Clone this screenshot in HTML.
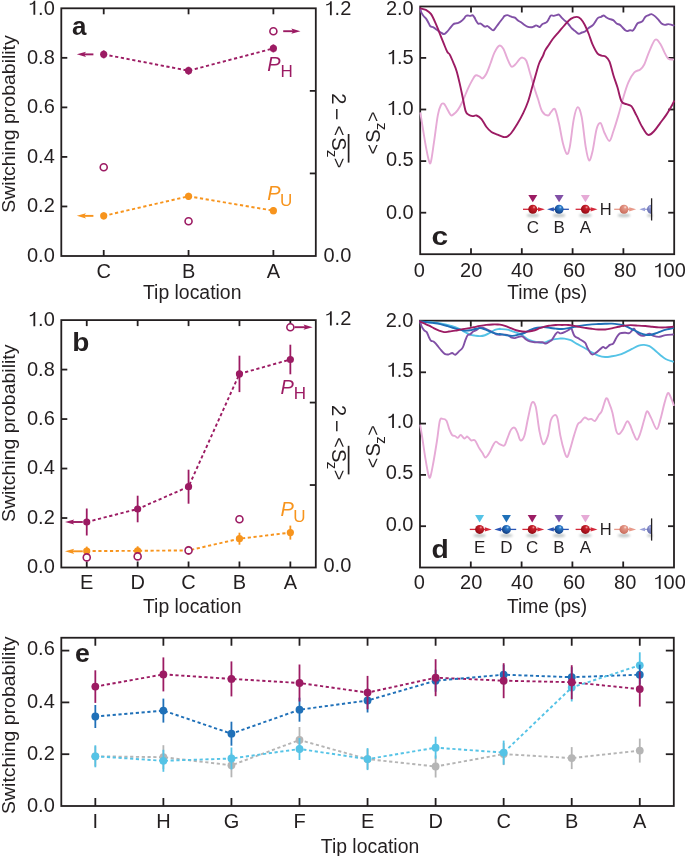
<!DOCTYPE html>
<html><head><meta charset="utf-8"><title>Figure</title>
<style>html,body{margin:0;padding:0;background:#fff;width:685px;height:856px;overflow:hidden}
svg text{font-family:"Liberation Sans", sans-serif} svg{will-change:transform}</style></head>
<body><svg width="685" height="856" viewBox="0 0 685 856" style="display:block"><defs><filter id="blur1" x="-50%" y="-100%" width="200%" height="300%"><feGaussianBlur stdDeviation="0.8"/></filter><radialGradient id="gR" cx="0.6" cy="0.32" r="0.78" fx="0.64" fy="0.27"><stop offset="0" stop-color="#f2a0a0"/><stop offset="0.22" stop-color="#c8202c"/><stop offset="0.75" stop-color="#a00e18"/><stop offset="1" stop-color="#780810"/></radialGradient><radialGradient id="gB" cx="0.6" cy="0.32" r="0.78" fx="0.64" fy="0.27"><stop offset="0" stop-color="#a0d0f4"/><stop offset="0.22" stop-color="#2a78c8"/><stop offset="0.75" stop-color="#164890"/><stop offset="1" stop-color="#0d306a"/></radialGradient><radialGradient id="gRf" cx="0.6" cy="0.32" r="0.78" fx="0.64" fy="0.27"><stop offset="0" stop-color="#fbe0d8"/><stop offset="0.22" stop-color="#e49686"/><stop offset="0.75" stop-color="#cf7565"/><stop offset="1" stop-color="#b9604f"/></radialGradient><radialGradient id="gBf" cx="0.6" cy="0.32" r="0.78" fx="0.64" fy="0.27"><stop offset="0" stop-color="#c8ccee"/><stop offset="0.22" stop-color="#8890cc"/><stop offset="0.75" stop-color="#6a72b2"/><stop offset="1" stop-color="#545c9a"/></radialGradient></defs><rect x="61.3" y="8.3" width="254.5" height="247.7" fill="none" stroke="#231f20" stroke-width="1.8" stroke-linejoin="miter"/>
<line x1="103.72" y1="256" x2="103.72" y2="250" stroke="#231f20" stroke-width="1.8" />
<line x1="103.72" y1="8.3" x2="103.72" y2="14.3" stroke="#231f20" stroke-width="1.8" />
<line x1="188.55" y1="256" x2="188.55" y2="250" stroke="#231f20" stroke-width="1.8" />
<line x1="188.55" y1="8.3" x2="188.55" y2="14.3" stroke="#231f20" stroke-width="1.8" />
<line x1="273.38" y1="256" x2="273.38" y2="250" stroke="#231f20" stroke-width="1.8" />
<line x1="273.38" y1="8.3" x2="273.38" y2="14.3" stroke="#231f20" stroke-width="1.8" />
<line x1="61.3" y1="206.46" x2="67.3" y2="206.46" stroke="#231f20" stroke-width="1.8" />
<line x1="61.3" y1="156.92" x2="67.3" y2="156.92" stroke="#231f20" stroke-width="1.8" />
<line x1="61.3" y1="107.38" x2="67.3" y2="107.38" stroke="#231f20" stroke-width="1.8" />
<line x1="61.3" y1="57.84" x2="67.3" y2="57.84" stroke="#231f20" stroke-width="1.8" />
<text x="54.8" y="261.7" font-size="20" text-anchor="end" fill="#231f20" >0.0</text>
<text x="54.8" y="212" font-size="20" text-anchor="end" fill="#231f20" >0.2</text>
<text x="54.8" y="163" font-size="20" text-anchor="end" fill="#231f20" >0.4</text>
<text x="54.8" y="113.3" font-size="20" text-anchor="end" fill="#231f20" >0.6</text>
<text x="54.8" y="64.3" font-size="20" text-anchor="end" fill="#231f20" >0.8</text>
<text x="54.8" y="14.8" font-size="20" text-anchor="end" fill="#231f20" > .0</text>
<path transform="translate(27,14.8) scale(20)" d="M0.322,0 L0.412,0 L0.412,-0.708 L0.342,-0.708 C0.322,-0.625 0.255,-0.57 0.14,-0.56 L0.14,-0.492 C0.225,-0.495 0.29,-0.525 0.322,-0.565 Z" fill="#231f20"/>
<line x1="315.8" y1="173.43" x2="309.8" y2="173.43" stroke="#231f20" stroke-width="1.8" />
<line x1="315.8" y1="90.87" x2="309.8" y2="90.87" stroke="#231f20" stroke-width="1.8" />
<text x="323.5" y="15.3" font-size="20" text-anchor="start" fill="#231f20" > .2</text>
<path transform="translate(323.5,15.3) scale(20)" d="M0.322,0 L0.412,0 L0.412,-0.708 L0.342,-0.708 C0.322,-0.625 0.255,-0.57 0.14,-0.56 L0.14,-0.492 C0.225,-0.495 0.29,-0.525 0.322,-0.565 Z" fill="#231f20"/>
<text x="323.5" y="262" font-size="20" text-anchor="start" fill="#231f20" >0.0</text>
<text x="103.72" y="277.5" font-size="20" text-anchor="middle" fill="#231f20" >C</text>
<text x="188.55" y="277.5" font-size="20" text-anchor="middle" fill="#231f20" >B</text>
<text x="273.38" y="277.5" font-size="20" text-anchor="middle" fill="#231f20" >A</text>
<text x="192.2" y="299.1" font-size="20" text-anchor="middle" fill="#231f20" textLength="98.5" lengthAdjust="spacingAndGlyphs" >Tip location</text>
<text transform="translate(14.6,124) rotate(-90)" font-size="19.2" text-anchor="middle" fill="#231f20" textLength="177.5" lengthAdjust="spacingAndGlyphs">Switching probability</text>
<g transform="translate(332.2,131.3) rotate(90)" fill="#231f20" font-size="20"><text x="-38.1" y="0">2</text><text x="-23.2" y="1.7" font-size="21">−</text><text x="-5.6" y="-0.7" font-size="17.5">&lt;</text><text x="5.9" y="0">S</text><text x="18.6" y="4.8" font-size="15">z</text><text x="26.8" y="-0.7" font-size="17.5">&gt;</text><line x1="2.7" y1="-16.4" x2="31.3" y2="-16.4" stroke="#231f20" stroke-width="1.7"/></g>
<text transform="translate(72,35.2) scale(1.04,1)" font-size="25" font-weight="bold" fill="#231f20">a</text>
<path d="M103.72,215.87 L188.55,196.3 L273.38,210.67" fill="none" stroke="#f7941d" stroke-width="1.9" stroke-dasharray="3.2,2.6" stroke-linejoin="round"/>
<line x1="103.72" y1="212.37" x2="103.72" y2="219.37" stroke="#f7941d" stroke-width="1.8" />
<circle cx="103.72" cy="215.87" r="3.6" fill="#f7941d" stroke="none" stroke-width="0"/>
<line x1="188.55" y1="192.8" x2="188.55" y2="199.8" stroke="#f7941d" stroke-width="1.8" />
<circle cx="188.55" cy="196.3" r="3.6" fill="#f7941d" stroke="none" stroke-width="0"/>
<line x1="273.38" y1="207.17" x2="273.38" y2="214.17" stroke="#f7941d" stroke-width="1.8" />
<circle cx="273.38" cy="210.67" r="3.6" fill="#f7941d" stroke="none" stroke-width="0"/>
<line x1="93.4" y1="215.87" x2="82.32" y2="215.87" stroke="#f7941d" stroke-width="1.9" />
<path d="M76.8,215.87 L86,213.27 L84.16,215.87 L86,218.47 Z" fill="#f7941d"/>
<path d="M103.72,54.37 L188.55,70.72 L273.38,48.43" fill="none" stroke="#9c1b63" stroke-width="1.9" stroke-dasharray="3.2,2.6" stroke-linejoin="round"/>
<line x1="103.72" y1="50.37" x2="103.72" y2="58.37" stroke="#9c1b63" stroke-width="1.8" />
<circle cx="103.72" cy="54.37" r="3.6" fill="#9c1b63" stroke="none" stroke-width="0"/>
<line x1="188.55" y1="66.72" x2="188.55" y2="74.72" stroke="#9c1b63" stroke-width="1.8" />
<circle cx="188.55" cy="70.72" r="3.6" fill="#9c1b63" stroke="none" stroke-width="0"/>
<line x1="273.38" y1="44.43" x2="273.38" y2="52.43" stroke="#9c1b63" stroke-width="1.8" />
<circle cx="273.38" cy="48.43" r="3.6" fill="#9c1b63" stroke="none" stroke-width="0"/>
<line x1="93.4" y1="54.37" x2="82.32" y2="54.37" stroke="#9c1b63" stroke-width="1.9" />
<path d="M76.8,54.37 L86,51.77 L84.16,54.37 L86,56.97 Z" fill="#9c1b63"/>
<circle cx="103.72" cy="167.3" r="3.5" fill="#fff" stroke="#9c1b63" stroke-width="1.6"/>
<circle cx="188.55" cy="221.2" r="3.5" fill="#fff" stroke="#9c1b63" stroke-width="1.6"/>
<circle cx="273.38" cy="31.2" r="3.5" fill="#fff" stroke="#9c1b63" stroke-width="1.6"/>
<line x1="283.2" y1="31.2" x2="294.98" y2="31.2" stroke="#9c1b63" stroke-width="1.9" />
<path d="M300.5,31.2 L291.3,28.6 L293.14,31.2 L291.3,33.8 Z" fill="#9c1b63"/>
<text x="267.2" y="71.2" font-size="20" text-anchor="start" fill="#9c1b63" ><tspan font-style="italic">P</tspan><tspan font-size="17" dy="5.4">H</tspan></text>
<text x="267.2" y="199.5" font-size="20" text-anchor="start" fill="#f7941d" ><tspan font-style="italic">P</tspan><tspan font-size="17" dy="6.4" dx="-0.6">U</tspan></text>
<rect x="61.3" y="320.1" width="254.5" height="247.4" fill="none" stroke="#231f20" stroke-width="1.8" stroke-linejoin="miter"/>
<line x1="86.75" y1="567.5" x2="86.75" y2="561.5" stroke="#231f20" stroke-width="1.8" />
<line x1="86.75" y1="320.1" x2="86.75" y2="326.1" stroke="#231f20" stroke-width="1.8" />
<line x1="137.65" y1="567.5" x2="137.65" y2="561.5" stroke="#231f20" stroke-width="1.8" />
<line x1="137.65" y1="320.1" x2="137.65" y2="326.1" stroke="#231f20" stroke-width="1.8" />
<line x1="188.55" y1="567.5" x2="188.55" y2="561.5" stroke="#231f20" stroke-width="1.8" />
<line x1="188.55" y1="320.1" x2="188.55" y2="326.1" stroke="#231f20" stroke-width="1.8" />
<line x1="239.45" y1="567.5" x2="239.45" y2="561.5" stroke="#231f20" stroke-width="1.8" />
<line x1="239.45" y1="320.1" x2="239.45" y2="326.1" stroke="#231f20" stroke-width="1.8" />
<line x1="290.35" y1="567.5" x2="290.35" y2="561.5" stroke="#231f20" stroke-width="1.8" />
<line x1="290.35" y1="320.1" x2="290.35" y2="326.1" stroke="#231f20" stroke-width="1.8" />
<line x1="61.3" y1="518.02" x2="67.3" y2="518.02" stroke="#231f20" stroke-width="1.8" />
<line x1="61.3" y1="468.54" x2="67.3" y2="468.54" stroke="#231f20" stroke-width="1.8" />
<line x1="61.3" y1="419.06" x2="67.3" y2="419.06" stroke="#231f20" stroke-width="1.8" />
<line x1="61.3" y1="369.58" x2="67.3" y2="369.58" stroke="#231f20" stroke-width="1.8" />
<text x="54.8" y="573" font-size="20" text-anchor="end" fill="#231f20" >0.0</text>
<text x="54.8" y="524" font-size="20" text-anchor="end" fill="#231f20" >0.2</text>
<text x="54.8" y="474.4" font-size="20" text-anchor="end" fill="#231f20" >0.4</text>
<text x="54.8" y="425.3" font-size="20" text-anchor="end" fill="#231f20" >0.6</text>
<text x="54.8" y="376" font-size="20" text-anchor="end" fill="#231f20" >0.8</text>
<text x="54.8" y="326.2" font-size="20" text-anchor="end" fill="#231f20" > .0</text>
<path transform="translate(27,326.2) scale(20)" d="M0.322,0 L0.412,0 L0.412,-0.708 L0.342,-0.708 C0.322,-0.625 0.255,-0.57 0.14,-0.56 L0.14,-0.492 C0.225,-0.495 0.29,-0.525 0.322,-0.565 Z" fill="#231f20"/>
<line x1="315.8" y1="485.03" x2="309.8" y2="485.03" stroke="#231f20" stroke-width="1.8" />
<line x1="315.8" y1="402.57" x2="309.8" y2="402.57" stroke="#231f20" stroke-width="1.8" />
<text x="323.5" y="325.4" font-size="20" text-anchor="start" fill="#231f20" > .2</text>
<path transform="translate(323.5,325.4) scale(20)" d="M0.322,0 L0.412,0 L0.412,-0.708 L0.342,-0.708 C0.322,-0.625 0.255,-0.57 0.14,-0.56 L0.14,-0.492 C0.225,-0.495 0.29,-0.525 0.322,-0.565 Z" fill="#231f20"/>
<text x="323.5" y="572" font-size="20" text-anchor="start" fill="#231f20" >0.0</text>
<text x="86.75" y="589" font-size="20" text-anchor="middle" fill="#231f20" >E</text>
<text x="137.65" y="589" font-size="20" text-anchor="middle" fill="#231f20" >D</text>
<text x="188.55" y="589" font-size="20" text-anchor="middle" fill="#231f20" >C</text>
<text x="239.45" y="589" font-size="20" text-anchor="middle" fill="#231f20" >B</text>
<text x="290.35" y="589" font-size="20" text-anchor="middle" fill="#231f20" >A</text>
<text x="192.2" y="613.3" font-size="20" text-anchor="middle" fill="#231f20" textLength="98.5" lengthAdjust="spacingAndGlyphs" >Tip location</text>
<text transform="translate(14.6,433.3) rotate(-90)" font-size="19.2" text-anchor="middle" fill="#231f20" textLength="177.5" lengthAdjust="spacingAndGlyphs">Switching probability</text>
<g transform="translate(332.2,443.1) rotate(90)" fill="#231f20" font-size="20"><text x="-38.1" y="0">2</text><text x="-23.2" y="1.7" font-size="21">−</text><text x="-5.6" y="-0.7" font-size="17.5">&lt;</text><text x="5.9" y="0">S</text><text x="18.6" y="4.8" font-size="15">z</text><text x="26.8" y="-0.7" font-size="17.5">&gt;</text><line x1="2.7" y1="-16.4" x2="31.3" y2="-16.4" stroke="#231f20" stroke-width="1.7"/></g>
<text transform="translate(72.2,351) scale(1.12,1)" font-size="25" font-weight="bold" fill="#231f20">b</text>
<path d="M86.75,551.1 L137.65,550.8 L188.55,550.4 L239.45,538.7 L290.35,532.6" fill="none" stroke="#f7941d" stroke-width="1.9" stroke-dasharray="3.2,2.6" stroke-linejoin="round"/>
<line x1="86.75" y1="546.6" x2="86.75" y2="555.6" stroke="#f7941d" stroke-width="1.8" />
<circle cx="86.75" cy="551.1" r="3.6" fill="#f7941d" stroke="none" stroke-width="0"/>
<line x1="137.65" y1="546.3" x2="137.65" y2="555.3" stroke="#f7941d" stroke-width="1.8" />
<circle cx="137.65" cy="550.8" r="3.6" fill="#f7941d" stroke="none" stroke-width="0"/>
<line x1="188.55" y1="545.9" x2="188.55" y2="554.9" stroke="#f7941d" stroke-width="1.8" />
<circle cx="188.55" cy="550.4" r="3.6" fill="#f7941d" stroke="none" stroke-width="0"/>
<line x1="239.45" y1="532.7" x2="239.45" y2="544.7" stroke="#f7941d" stroke-width="1.8" />
<circle cx="239.45" cy="538.7" r="3.6" fill="#f7941d" stroke="none" stroke-width="0"/>
<line x1="290.35" y1="525.6" x2="290.35" y2="539.6" stroke="#f7941d" stroke-width="1.8" />
<circle cx="290.35" cy="532.6" r="3.6" fill="#f7941d" stroke="none" stroke-width="0"/>
<line x1="82.8" y1="551.3" x2="70.52" y2="551.3" stroke="#f7941d" stroke-width="1.9" />
<path d="M65,551.3 L74.2,548.7 L72.36,551.3 L74.2,553.9 Z" fill="#f7941d"/>
<path d="M86.75,522 L137.65,509 L188.55,486.7 L239.45,373.9 L290.35,359.5" fill="none" stroke="#9c1b63" stroke-width="1.9" stroke-dasharray="3.2,2.6" stroke-linejoin="round"/>
<line x1="86.75" y1="508.5" x2="86.75" y2="535.5" stroke="#9c1b63" stroke-width="1.8" />
<circle cx="86.75" cy="522" r="3.6" fill="#9c1b63" stroke="none" stroke-width="0"/>
<line x1="137.65" y1="495.7" x2="137.65" y2="522.3" stroke="#9c1b63" stroke-width="1.8" />
<circle cx="137.65" cy="509" r="3.6" fill="#9c1b63" stroke="none" stroke-width="0"/>
<line x1="188.55" y1="469.7" x2="188.55" y2="503.7" stroke="#9c1b63" stroke-width="1.8" />
<circle cx="188.55" cy="486.7" r="3.6" fill="#9c1b63" stroke="none" stroke-width="0"/>
<line x1="239.45" y1="355.7" x2="239.45" y2="392.1" stroke="#9c1b63" stroke-width="1.8" />
<circle cx="239.45" cy="373.9" r="3.6" fill="#9c1b63" stroke="none" stroke-width="0"/>
<line x1="290.35" y1="344.7" x2="290.35" y2="374.3" stroke="#9c1b63" stroke-width="1.8" />
<circle cx="290.35" cy="359.5" r="3.6" fill="#9c1b63" stroke="none" stroke-width="0"/>
<line x1="82.8" y1="522" x2="70.52" y2="522" stroke="#9c1b63" stroke-width="1.9" />
<path d="M65,522 L74.2,519.4 L72.36,522 L74.2,524.6 Z" fill="#9c1b63"/>
<circle cx="86.75" cy="557.4" r="3.5" fill="#fff" stroke="#9c1b63" stroke-width="1.6"/>
<circle cx="137.65" cy="556.4" r="3.5" fill="#fff" stroke="#9c1b63" stroke-width="1.6"/>
<circle cx="188.55" cy="550.4" r="3.5" fill="#fff" stroke="#9c1b63" stroke-width="1.6"/>
<circle cx="239.45" cy="519.3" r="3.5" fill="#fff" stroke="#9c1b63" stroke-width="1.6"/>
<circle cx="290.35" cy="327.2" r="3.5" fill="#fff" stroke="#9c1b63" stroke-width="1.6"/>
<line x1="294.5" y1="327.2" x2="307.18" y2="327.2" stroke="#9c1b63" stroke-width="1.9" />
<path d="M312.7,327.2 L303.5,324.6 L305.34,327.2 L303.5,329.8 Z" fill="#9c1b63"/>
<text x="280.5" y="393.6" font-size="20" text-anchor="start" fill="#9c1b63" ><tspan font-style="italic">P</tspan><tspan font-size="17" dy="5.4">H</tspan></text>
<text x="280.5" y="516" font-size="20" text-anchor="start" fill="#f7941d" ><tspan font-style="italic">P</tspan><tspan font-size="17" dy="6.4" dx="-0.6">U</tspan></text>
<rect x="420.2" y="6.5" width="254" height="247.7" fill="none" stroke="#231f20" stroke-width="1.8" stroke-linejoin="miter"/>
<line x1="471" y1="254.2" x2="471" y2="248.2" stroke="#231f20" stroke-width="1.8" />
<line x1="471" y1="6.5" x2="471" y2="12.5" stroke="#231f20" stroke-width="1.8" />
<line x1="521.8" y1="254.2" x2="521.8" y2="248.2" stroke="#231f20" stroke-width="1.8" />
<line x1="521.8" y1="6.5" x2="521.8" y2="12.5" stroke="#231f20" stroke-width="1.8" />
<line x1="572.6" y1="254.2" x2="572.6" y2="248.2" stroke="#231f20" stroke-width="1.8" />
<line x1="572.6" y1="6.5" x2="572.6" y2="12.5" stroke="#231f20" stroke-width="1.8" />
<line x1="623.4" y1="254.2" x2="623.4" y2="248.2" stroke="#231f20" stroke-width="1.8" />
<line x1="623.4" y1="6.5" x2="623.4" y2="12.5" stroke="#231f20" stroke-width="1.8" />
<line x1="420.2" y1="212.7" x2="426.2" y2="212.7" stroke="#231f20" stroke-width="1.8" />
<line x1="674.2" y1="212.7" x2="668.2" y2="212.7" stroke="#231f20" stroke-width="1.8" />
<line x1="420.2" y1="161.1" x2="426.2" y2="161.1" stroke="#231f20" stroke-width="1.8" />
<line x1="674.2" y1="161.1" x2="668.2" y2="161.1" stroke="#231f20" stroke-width="1.8" />
<line x1="420.2" y1="109.5" x2="426.2" y2="109.5" stroke="#231f20" stroke-width="1.8" />
<line x1="674.2" y1="109.5" x2="668.2" y2="109.5" stroke="#231f20" stroke-width="1.8" />
<line x1="420.2" y1="57.9" x2="426.2" y2="57.9" stroke="#231f20" stroke-width="1.8" />
<line x1="674.2" y1="57.9" x2="668.2" y2="57.9" stroke="#231f20" stroke-width="1.8" />
<text x="413.7" y="218.75" font-size="20" text-anchor="end" fill="#231f20" >0.0</text>
<text x="413.7" y="166.2" font-size="20" text-anchor="end" fill="#231f20" >0.5</text>
<text x="413.7" y="115.1" font-size="20" text-anchor="end" fill="#231f20" > .0</text>
<path transform="translate(385.9,115.1) scale(20)" d="M0.322,0 L0.412,0 L0.412,-0.708 L0.342,-0.708 C0.322,-0.625 0.255,-0.57 0.14,-0.56 L0.14,-0.492 C0.225,-0.495 0.29,-0.525 0.322,-0.565 Z" fill="#231f20"/>
<text x="413.7" y="64.2" font-size="20" text-anchor="end" fill="#231f20" > .5</text>
<path transform="translate(385.9,64.2) scale(20)" d="M0.322,0 L0.412,0 L0.412,-0.708 L0.342,-0.708 C0.322,-0.625 0.255,-0.57 0.14,-0.56 L0.14,-0.492 C0.225,-0.495 0.29,-0.525 0.322,-0.565 Z" fill="#231f20"/>
<text x="413.7" y="14.8" font-size="20" text-anchor="end" fill="#231f20" >2.0</text>
<text x="419.2" y="277.3" font-size="20" text-anchor="middle" fill="#231f20" >0</text>
<text x="471.2" y="277.3" font-size="20" text-anchor="middle" fill="#231f20" >20</text>
<text x="522.2" y="277.3" font-size="20" text-anchor="middle" fill="#231f20" >40</text>
<text x="574" y="277.3" font-size="20" text-anchor="middle" fill="#231f20" >60</text>
<text x="625.2" y="277.3" font-size="20" text-anchor="middle" fill="#231f20" >80</text>
<text x="652.4" y="277.3" font-size="20" text-anchor="start" fill="#231f20" > 00</text>
<path transform="translate(652.4,277.3) scale(20)" d="M0.322,0 L0.412,0 L0.412,-0.708 L0.342,-0.708 C0.322,-0.625 0.255,-0.57 0.14,-0.56 L0.14,-0.492 C0.225,-0.495 0.29,-0.525 0.322,-0.565 Z" fill="#231f20"/>
<text x="547.2" y="299.3" font-size="20" text-anchor="middle" fill="#231f20" textLength="80" lengthAdjust="spacingAndGlyphs" >Time (ps)</text>
<g transform="translate(380.3,130.85) rotate(-90)" fill="#231f20" font-size="20"><text x="-23.35" y="-1.7" font-size="17.5">&lt;</text><text x="-11.85" y="0">S</text><text x="0.75" y="4.5" font-size="15">z</text><text x="9.15" y="-1.7" font-size="17.5">&gt;</text></g>
<text transform="translate(431.6,244.9) scale(1.2,1)" font-size="25" font-weight="bold" fill="#231f20">c</text>
<rect x="420" y="320.7" width="254" height="246.8" fill="none" stroke="#231f20" stroke-width="1.8" stroke-linejoin="miter"/>
<line x1="470.8" y1="567.5" x2="470.8" y2="561.5" stroke="#231f20" stroke-width="1.8" />
<line x1="470.8" y1="320.7" x2="470.8" y2="326.7" stroke="#231f20" stroke-width="1.8" />
<line x1="521.6" y1="567.5" x2="521.6" y2="561.5" stroke="#231f20" stroke-width="1.8" />
<line x1="521.6" y1="320.7" x2="521.6" y2="326.7" stroke="#231f20" stroke-width="1.8" />
<line x1="572.4" y1="567.5" x2="572.4" y2="561.5" stroke="#231f20" stroke-width="1.8" />
<line x1="572.4" y1="320.7" x2="572.4" y2="326.7" stroke="#231f20" stroke-width="1.8" />
<line x1="623.2" y1="567.5" x2="623.2" y2="561.5" stroke="#231f20" stroke-width="1.8" />
<line x1="623.2" y1="320.7" x2="623.2" y2="326.7" stroke="#231f20" stroke-width="1.8" />
<line x1="420" y1="526.2" x2="426" y2="526.2" stroke="#231f20" stroke-width="1.8" />
<line x1="674" y1="526.2" x2="668" y2="526.2" stroke="#231f20" stroke-width="1.8" />
<line x1="420" y1="474.9" x2="426" y2="474.9" stroke="#231f20" stroke-width="1.8" />
<line x1="674" y1="474.9" x2="668" y2="474.9" stroke="#231f20" stroke-width="1.8" />
<line x1="420" y1="423.6" x2="426" y2="423.6" stroke="#231f20" stroke-width="1.8" />
<line x1="674" y1="423.6" x2="668" y2="423.6" stroke="#231f20" stroke-width="1.8" />
<line x1="420" y1="372.3" x2="426" y2="372.3" stroke="#231f20" stroke-width="1.8" />
<line x1="674" y1="372.3" x2="668" y2="372.3" stroke="#231f20" stroke-width="1.8" />
<text x="413.5" y="531.4" font-size="20" text-anchor="end" fill="#231f20" >0.0</text>
<text x="413.5" y="479" font-size="20" text-anchor="end" fill="#231f20" >0.5</text>
<text x="413.5" y="428" font-size="20" text-anchor="end" fill="#231f20" > .0</text>
<path transform="translate(385.7,428) scale(20)" d="M0.322,0 L0.412,0 L0.412,-0.708 L0.342,-0.708 C0.322,-0.625 0.255,-0.57 0.14,-0.56 L0.14,-0.492 C0.225,-0.495 0.29,-0.525 0.322,-0.565 Z" fill="#231f20"/>
<text x="413.5" y="376.8" font-size="20" text-anchor="end" fill="#231f20" > .5</text>
<path transform="translate(385.7,376.8) scale(20)" d="M0.322,0 L0.412,0 L0.412,-0.708 L0.342,-0.708 C0.322,-0.625 0.255,-0.57 0.14,-0.56 L0.14,-0.492 C0.225,-0.495 0.29,-0.525 0.322,-0.565 Z" fill="#231f20"/>
<text x="413.5" y="327.1" font-size="20" text-anchor="end" fill="#231f20" >2.0</text>
<text x="419.2" y="589.1" font-size="20" text-anchor="middle" fill="#231f20" >0</text>
<text x="471.2" y="589.1" font-size="20" text-anchor="middle" fill="#231f20" >20</text>
<text x="522.2" y="589.1" font-size="20" text-anchor="middle" fill="#231f20" >40</text>
<text x="574" y="589.1" font-size="20" text-anchor="middle" fill="#231f20" >60</text>
<text x="625.2" y="589.1" font-size="20" text-anchor="middle" fill="#231f20" >80</text>
<text x="652.4" y="589.1" font-size="20" text-anchor="start" fill="#231f20" > 00</text>
<path transform="translate(652.4,589.1) scale(20)" d="M0.322,0 L0.412,0 L0.412,-0.708 L0.342,-0.708 C0.322,-0.625 0.255,-0.57 0.14,-0.56 L0.14,-0.492 C0.225,-0.495 0.29,-0.525 0.322,-0.565 Z" fill="#231f20"/>
<text x="547" y="612.6" font-size="20" text-anchor="middle" fill="#231f20" textLength="80" lengthAdjust="spacingAndGlyphs" >Time (ps)</text>
<g transform="translate(380.3,444.6) rotate(-90)" fill="#231f20" font-size="20"><text x="-23.35" y="-1.7" font-size="17.5">&lt;</text><text x="-11.85" y="0">S</text><text x="0.75" y="4.5" font-size="15">z</text><text x="9.15" y="-1.7" font-size="17.5">&gt;</text></g>
<text transform="translate(431.5,558.4) scale(1.13,1)" font-size="25" font-weight="bold" fill="#231f20">d</text>
<path d="M420.38,113.14 C420.81,115.79 422.04,123.4 422.96,129.02 C423.89,134.64 424.95,141.59 425.94,146.88 C426.93,152.18 428.09,158.3 428.92,160.78 C429.74,163.26 430.07,164.75 430.9,161.77 C431.73,158.79 432.72,150.69 433.88,142.91 C435.04,135.14 436.69,121.41 437.85,115.13 C439.01,108.84 439.83,107.12 440.83,105.2 C441.82,103.28 442.81,103.12 443.8,103.61 C444.8,104.11 445.62,106.26 446.78,108.18 C447.94,110.1 449.59,114.13 450.75,115.13 C451.91,116.12 452.57,114.96 453.73,114.13 C454.89,113.31 456.21,112.31 457.7,110.16 C459.19,108.01 461.01,104.7 462.66,101.23 C464.31,97.76 466.13,92.63 467.62,89.32 C469.11,86.01 470.27,83.7 471.59,81.38 C472.92,79.07 474.24,76.25 475.56,75.43 C476.89,74.6 478.37,75.92 479.53,76.42 C480.69,76.92 481.35,78.9 482.51,78.4 C483.67,77.91 485.16,75.92 486.48,73.44 C487.8,70.96 489.13,66.99 490.45,63.52 C491.77,60.04 492.93,55.58 494.42,52.6 C495.91,49.62 497.89,46.31 499.38,45.65 C500.87,44.99 502.03,46.48 503.35,48.63 C504.67,50.78 506,55.58 507.32,58.55 C508.64,61.53 509.97,65.5 511.29,66.49 C512.61,67.49 513.94,65.67 515.26,64.51 C516.58,63.35 518.07,60.71 519.23,59.55 C520.39,58.39 521.05,57.4 522.21,57.56 C523.37,57.73 524.85,57.89 526.18,60.54 C527.5,63.19 528.82,68.98 530.15,73.44 C531.47,77.91 532.79,83.04 534.12,87.34 C535.44,91.64 536.76,95.28 538.09,99.25 C539.41,103.22 540.41,108.44 542.06,111.16 C543.71,113.87 546.49,115.36 547.98,115.52 C549.46,115.69 549.8,113.21 550.95,112.15 C552.11,111.09 553.6,107.35 554.92,109.17 C556.25,110.99 557.57,117.44 558.89,123.06 C560.22,128.69 561.54,137.79 562.86,142.91 C564.19,148.04 565.68,153.17 566.83,153.83 C567.99,154.49 568.65,152.67 569.81,146.88 C570.97,141.09 572.46,125.71 573.78,119.09 C575.1,112.48 576.43,107.52 577.75,107.19 C579.07,106.85 580.4,110.49 581.72,117.11 C583.04,123.73 584.47,139.67 585.69,146.88 C586.91,154.1 587.91,159.72 589.07,160.38 C590.22,161.04 591.38,156.08 592.64,150.85 C593.9,145.63 595.28,133.65 596.61,129.02 C597.93,124.39 599.25,122.4 600.58,123.06 C601.9,123.73 603.06,130.01 604.55,132.99 C606.04,135.97 608.02,141.26 609.51,140.93 C611,140.6 611.99,135.31 613.48,131 C614.97,126.7 616.79,120.75 618.44,115.13 C620.1,109.5 621.75,102.72 623.4,97.26 C625.06,91.8 626.55,86.51 628.37,82.37 C630.19,78.24 632.34,74.6 634.32,72.45 C636.31,70.3 638.62,70.8 640.28,69.47 C641.93,68.15 642.76,67.49 644.25,64.51 C645.73,61.53 647.39,55.74 649.21,51.61 C651.03,47.47 653.34,41.02 655.16,39.7 C656.98,38.38 658.64,41.68 660.13,43.67 C661.61,45.65 662.77,49.13 664.09,51.61 C665.42,54.09 666.58,57.23 668.06,58.55 C669.55,59.88 672.2,59.38 673.03,59.55" fill="none" stroke="#e6aad6" stroke-width="1.9" stroke-linejoin="round" stroke-linecap="round"/>
<path d="M420.2,8.68 C420.35,9.2 420.74,10.86 421.1,11.79 C421.46,12.72 421.83,13.44 422.34,14.27 C422.86,15.1 423.58,16.03 424.2,16.75 C424.82,17.47 425.44,17.78 426.06,18.61 C426.68,19.44 427.31,20.57 427.93,21.71 C428.55,22.85 429.27,24.61 429.79,25.43 C430.3,26.26 430.41,26.36 431.03,26.67 C431.65,26.99 432.68,26.88 433.51,27.3 C434.34,27.71 435.16,28.54 435.99,29.16 C436.82,29.78 437.64,30.46 438.47,31.02 C439.3,31.58 440.02,31.99 440.95,32.51 C441.88,33.02 443.02,34.26 444.05,34.12 C445.09,33.97 446.12,32.67 447.16,31.64 C448.19,30.6 449.22,29.16 450.26,27.92 C451.29,26.67 452.43,24.96 453.36,24.19 C454.29,23.43 455.01,23.53 455.84,23.33 C456.67,23.12 457.39,23.33 458.32,22.95 C459.25,22.58 460.49,21.82 461.42,21.09 C462.35,20.37 463.18,19.44 463.91,18.61 C464.63,17.78 465.15,16.65 465.77,16.13 C466.39,15.61 466.9,15.55 467.63,15.51 C468.35,15.47 469.28,15.92 470.11,15.88 C470.94,15.84 471.87,15.01 472.59,15.26 C473.31,15.51 473.83,16.4 474.45,17.37 C475.07,18.34 475.69,20.06 476.31,21.09 C476.93,22.13 477.45,23.16 478.17,23.57 C478.9,23.99 479.83,23.26 480.66,23.57 C481.48,23.88 482.41,24.92 483.14,25.43 C483.86,25.95 484.27,26.57 485,26.67 C485.72,26.78 486.65,25.85 487.48,26.05 C488.31,26.26 489.03,27.19 489.96,27.92 C490.89,28.64 492.13,30.4 493.06,30.4 C493.99,30.4 494.61,29.05 495.54,27.92 C496.47,26.78 497.4,25.23 498.65,23.57 C499.89,21.92 502.04,19.23 502.99,17.99 C503.94,16.75 503.6,16.6 504.34,16.13 C505.09,15.65 506.51,15.14 507.44,15.14 C508.37,15.14 509.1,15.8 509.93,16.13 C510.75,16.46 511.58,16.87 512.41,17.12 C513.23,17.37 513.96,17.06 514.89,17.62 C515.82,18.18 516.96,19.69 517.99,20.47 C519.02,21.26 520.06,21.61 521.09,22.33 C522.13,23.06 523.16,24.09 524.19,24.81 C525.23,25.54 526.16,26.26 527.3,26.67 C528.43,27.09 529.98,27.3 531.02,27.3 C532.05,27.3 532.67,26.99 533.5,26.67 C534.33,26.36 535.26,25.54 535.98,25.43 C536.7,25.33 537.22,25.79 537.84,26.05 C538.46,26.32 538.98,27.36 539.7,27.05 C540.43,26.74 541.25,24.88 542.18,24.19 C543.11,23.51 544.46,23.37 545.29,22.95 C546.11,22.54 546.53,22.44 547.15,21.71 C547.77,20.99 548.39,19.64 549.01,18.61 C549.63,17.58 550.04,15.96 550.87,15.51 C551.7,15.05 553.04,15.94 553.97,15.88 C554.9,15.82 555.62,15.34 556.45,15.14 C557.28,14.93 558.11,14.27 558.93,14.64 C559.76,15.01 560.59,16.5 561.41,17.37 C562.24,18.24 562.97,19.02 563.9,19.85 C564.83,20.68 566.07,21.4 567,22.33 C567.93,23.26 568.65,24.4 569.48,25.43 C570.31,26.47 571.03,27.61 571.96,28.54 C572.89,29.47 573.92,30.15 575.06,31.02 C576.2,31.89 577.65,33.5 578.78,33.75 C579.92,34 580.85,32.87 581.89,32.51 C582.92,32.14 583.92,32.28 585,31.56 C586.08,30.84 587.13,29.21 588.36,28.2 C589.59,27.2 591.27,26.52 592.39,25.52 C593.51,24.51 594.18,23.39 595.07,22.16 C595.97,20.93 596.75,19.03 597.76,18.13 C598.77,17.24 600.11,17.24 601.12,16.79 C602.12,16.34 602.91,15.33 603.8,15.44 C604.7,15.56 605.59,16.9 606.49,17.46 C607.38,18.02 608.05,18.35 609.17,18.8 C610.29,19.25 611.97,19.36 613.2,20.15 C614.43,20.93 615.44,22.72 616.56,23.5 C617.68,24.29 618.91,24.17 619.92,24.85 C620.93,25.52 621.71,26.64 622.6,27.53 C623.5,28.43 624.51,29.61 625.29,30.22 C626.07,30.82 626.52,31.16 627.3,31.16 C628.09,31.16 629.1,30.31 629.99,30.22 C630.89,30.13 631.89,30.96 632.68,30.62 C633.46,30.28 633.91,29.39 634.69,28.2 C635.47,27.02 636.37,24.51 637.38,23.5 C638.38,22.5 639.84,22.61 640.73,22.16 C641.63,21.71 641.97,21.71 642.75,20.82 C643.53,19.92 644.43,17.75 645.44,16.79 C646.44,15.83 647.79,15.49 648.79,15.04 C649.8,14.59 650.47,13.92 651.48,14.1 C652.49,14.28 653.72,15.22 654.84,16.12 C655.96,17.01 657.07,18.24 658.19,19.47 C659.31,20.7 660.43,22.61 661.55,23.5 C662.67,24.4 663.79,24.73 664.91,24.85 C666.03,24.96 667.15,24.17 668.27,24.17 C669.39,24.17 670.73,24.62 671.62,24.85 C672.52,25.07 673.3,25.41 673.64,25.52" fill="none" stroke="#8150a6" stroke-width="1.9" stroke-linejoin="round" stroke-linecap="round"/>
<path d="M420.38,8.34 C421.31,8.6 424.19,9 425.94,9.92 C427.69,10.85 429.25,11.58 430.9,13.89 C432.56,16.21 434.38,20.51 435.86,23.82 C437.35,27.13 438.51,30.44 439.83,33.74 C441.16,37.05 442.55,40.62 443.8,43.67 C445.06,46.71 446.38,50.19 447.38,52 C448.37,53.82 448.7,52.67 449.76,54.59 C450.82,56.5 452.57,60.71 453.73,63.52 C454.89,66.33 455.71,68.15 456.71,71.46 C457.7,74.77 458.69,79.07 459.68,83.37 C460.68,87.67 461.67,92.63 462.66,97.26 C463.65,101.89 464.65,108.24 465.64,111.16 C466.63,114.07 467.46,113.9 468.62,114.73 C469.77,115.56 471.26,115.99 472.59,116.12 C473.91,116.25 475.07,115.03 476.55,115.52 C478.04,116.02 479.86,117.18 481.52,119.09 C483.17,121.01 484.83,124.88 486.48,127.03 C488.13,129.18 489.62,130.74 491.44,132 C493.26,133.25 495.41,133.75 497.4,134.58 C499.38,135.4 501.7,136.63 503.35,136.96 C505.01,137.29 506,137.22 507.32,136.56 C508.64,135.9 509.64,135.07 511.29,132.99 C512.95,130.91 515.26,127.37 517.25,124.06 C519.23,120.75 521.38,116.94 523.2,113.14 C525.02,109.34 526.67,105.53 528.16,101.23 C529.65,96.93 530.81,91.97 532.13,87.34 C533.46,82.7 534.94,77.41 536.1,73.44 C537.26,69.47 537.92,66.49 539.08,63.52 C540.24,60.54 542.06,57.73 543.05,55.58 C544.04,53.43 544.05,52.43 545.03,50.62 C546.02,48.8 547.65,46.65 548.97,44.66 C550.29,42.68 551.29,40.86 552.94,38.71 C554.59,36.56 556.91,34.07 558.89,31.76 C560.88,29.44 562.86,26.96 564.85,24.81 C566.83,22.66 568.82,20.18 570.8,18.86 C572.79,17.53 575.1,16.87 576.76,16.87 C578.41,16.87 579.41,17.53 580.73,18.86 C582.05,20.18 583.38,22.33 584.7,24.81 C586.02,27.29 587.34,30.44 588.67,33.74 C589.99,37.05 591.15,41.35 592.64,44.66 C594.13,47.97 596.11,51.77 597.6,53.59 C599.09,55.41 600.25,55.08 601.57,55.58 C602.89,56.07 604.22,55.58 605.54,56.57 C606.86,57.56 608.19,58.39 609.51,61.53 C610.83,64.68 612.16,71.13 613.48,75.43 C614.8,79.73 616.13,83.04 617.45,87.34 C618.77,91.64 619.93,98.42 621.42,101.23 C622.91,104.04 624.73,103.38 626.38,104.21 C628.04,105.04 629.69,104.37 631.34,106.19 C633,108.01 634.49,111.65 636.31,115.13 C638.13,118.6 640.28,123.73 642.26,127.03 C644.25,130.34 646.23,134.31 648.22,134.97 C650.2,135.64 652.19,132.99 654.17,131 C656.16,129.02 658.14,125.71 660.13,123.06 C662.11,120.42 664.09,118.1 666.08,115.13 C668.06,112.15 670.71,107.52 672.03,105.2 C673.36,102.88 673.69,101.89 674.02,101.23" fill="none" stroke="#9c1b63" stroke-width="1.9" stroke-linejoin="round" stroke-linecap="round"/>
<line x1="523" y1="209.3" x2="539.3" y2="209.3" stroke="#d3283a" stroke-width="1.3" />
<path d="M544.9,209.3 L538,207.2 L538,211.4 Z" fill="#d3283a"/>
<ellipse cx="532.8" cy="215.4" rx="6.3" ry="1.9" fill="#7f8a8a" opacity="0.45" filter="url(#blur1)"/>
<circle cx="532.8" cy="209.3" r="4.5" fill="url(#gR)"/>
<path d="M528.3,194.9 L537.3,194.9 L532.8,202.3 Z" fill="#9c1b63"/>
<text x="532.8" y="233.1" font-size="17" text-anchor="middle" fill="#231f20" >C</text>
<line x1="568.9" y1="209.3" x2="552.6" y2="209.3" stroke="#2a55b5" stroke-width="1.3" />
<path d="M547,209.3 L553.9,207.2 L553.9,211.4 Z" fill="#2a55b5"/>
<ellipse cx="559.1" cy="215.4" rx="6.3" ry="1.9" fill="#7f8a8a" opacity="0.45" filter="url(#blur1)"/>
<circle cx="559.1" cy="209.3" r="4.5" fill="url(#gB)"/>
<path d="M554.6,194.9 L563.6,194.9 L559.1,202.3 Z" fill="#8150a6"/>
<text x="559.1" y="233.1" font-size="17" text-anchor="middle" fill="#231f20" >B</text>
<line x1="575.6" y1="209.3" x2="591.9" y2="209.3" stroke="#d3283a" stroke-width="1.3" />
<path d="M597.5,209.3 L590.6,207.2 L590.6,211.4 Z" fill="#d3283a"/>
<ellipse cx="585.4" cy="215.4" rx="6.3" ry="1.9" fill="#7f8a8a" opacity="0.45" filter="url(#blur1)"/>
<circle cx="585.4" cy="209.3" r="4.5" fill="url(#gR)"/>
<path d="M580.9,194.9 L589.9,194.9 L585.4,202.3 Z" fill="#e6aad6"/>
<text x="585.4" y="233.1" font-size="17" text-anchor="middle" fill="#231f20" >A</text>
<text x="605.8" y="215.3" font-size="16.5" text-anchor="middle" fill="#231f20" >H</text>
<line x1="614.2" y1="209.3" x2="630.5" y2="209.3" stroke="#e89a8a" stroke-width="1.3" />
<path d="M636.1,209.3 L629.2,207.2 L629.2,211.4 Z" fill="#e89a8a"/>
<ellipse cx="624" cy="215.4" rx="6.3" ry="1.9" fill="#7f8a8a" opacity="0.45" filter="url(#blur1)"/>
<circle cx="624" cy="209.3" r="4.5" fill="url(#gRf)"/>
<line x1="644.5" y1="209.3" x2="650" y2="209.3" stroke="#9aa0d8" stroke-width="1.3" />
<path d="M639.4,209.3 L645,207.4 L645,211.2 Z" fill="#9aa0d8"/>
<ellipse cx="650" cy="215.4" rx="3" ry="1.6" fill="#7f8a8a" opacity="0.4" filter="url(#blur1)"/>
<path d="M651.6,204.7 A4.6,4.6 0 0 0 651.6,213.9 Z" fill="url(#gBf)"/>
<line x1="651.6" y1="198.3" x2="651.6" y2="220.5" stroke="#231f20" stroke-width="1.3" />
<path d="M420.28,425.55 C420.69,428.08 421.86,435.04 422.74,440.73 C423.63,446.43 424.64,454.02 425.59,459.71 C426.54,465.41 427.65,472.05 428.44,474.89 C429.23,477.74 429.55,478.69 430.34,476.79 C431.13,474.89 432.08,469.52 433.18,463.51 C434.29,457.5 435.87,447.85 436.98,440.73 C438.09,433.62 438.88,424.44 439.83,420.8 C440.77,417.17 441.57,418.91 442.67,418.91 C443.78,418.91 445.36,419.06 446.47,420.8 C447.58,422.54 448.37,426.97 449.32,429.35 C450.26,431.72 451.21,433.93 452.16,435.04 C453.11,436.15 454.06,435.51 455.01,435.99 C455.96,436.46 456.91,438.04 457.86,437.89 C458.8,437.73 459.6,434.94 460.7,435.04 C461.81,435.13 463.39,438.2 464.5,438.46 C465.61,438.71 466.24,436.24 467.35,436.56 C468.45,436.87 469.88,439.72 471.14,440.35 C472.41,440.99 473.67,439.18 474.94,440.35 C476.2,441.52 477.47,445.26 478.73,447.38 C480,449.49 481.42,451.39 482.53,453.07 C483.64,454.75 484.27,457.43 485.38,457.43 C486.48,457.43 487.91,455.06 489.17,453.07 C490.44,451.08 491.86,447.38 492.97,445.48 C494.07,443.58 494.71,441.9 495.81,441.68 C496.92,441.46 498.19,443.52 499.61,444.15 C501.03,444.78 503.09,446.36 504.35,445.48 C505.62,444.59 506.09,441.46 507.2,438.83 C508.31,436.21 509.73,431.56 511,429.72 C512.26,427.89 513.69,427.26 514.79,427.83 C515.9,428.4 516.69,431.05 517.64,433.14 C518.59,435.23 519.38,439.88 520.49,440.35 C521.59,440.83 523.02,439.72 524.28,435.99 C525.55,432.26 526.81,423.49 528.08,417.96 C529.34,412.42 530.61,404.67 531.87,402.77 C533.14,400.88 534.4,401.83 535.67,406.57 C536.93,411.32 538.2,424.98 539.47,431.24 C540.73,437.51 541.86,443.37 543.26,444.15 C544.67,444.92 546.64,439.83 547.89,435.89 C549.14,431.94 549.66,423.94 550.78,420.47 C551.91,417 553.51,415.4 554.64,415.07 C555.76,414.75 556.56,415.07 557.53,418.54 C558.49,422.01 559.29,430.43 560.42,435.89 C561.54,441.35 563.15,447.77 564.27,451.3 C565.4,454.84 566.2,457.41 567.16,457.09 C568.13,456.76 568.93,452.91 570.05,449.38 C571.18,445.84 572.62,440.06 573.91,435.89 C575.19,431.71 576.64,426.64 577.76,424.32 C578.89,422.01 579.53,423.14 580.65,422.01 C581.78,420.89 583.22,418 584.51,417.58 C585.79,417.16 587.24,419.28 588.36,419.51 C589.49,419.73 590.13,418.7 591.25,418.93 C592.38,419.15 593.82,421.56 595.11,420.86 C596.39,420.15 597.84,416.36 598.96,414.69 C600.08,413.02 600.63,413.56 601.85,410.83 C603.07,408.1 605,399.43 606.28,398.31 C607.57,397.18 608.53,401.68 609.56,404.09 C610.59,406.5 611.33,408.26 612.45,412.76 C613.57,417.26 615.18,427.54 616.3,431.07 C617.43,434.6 618.07,434.28 619.2,433.96 C620.32,433.64 621.76,431.23 623.05,429.14 C624.33,427.05 625.78,422.24 626.9,421.43 C628.03,420.63 628.67,422.24 629.79,424.32 C630.92,426.41 632.43,431.39 633.65,433.96 C634.87,436.53 635.99,439.9 637.12,439.74 C638.24,439.58 639.21,436.37 640.39,433 C641.58,429.62 643.12,423.14 644.25,419.51 C645.37,415.88 646.01,411.54 647.14,411.22 C648.26,410.9 649.39,414.59 650.99,417.58 C652.6,420.57 655.17,428.98 656.77,429.14 C658.38,429.3 659.34,422.88 660.63,418.54 C661.91,414.21 663.26,407.37 664.48,403.13 C665.7,398.89 666.83,393.91 667.95,393.1 C669.08,392.3 670.26,396.32 671.23,398.31 C672.19,400.3 673.32,403.93 673.73,405.05" fill="none" stroke="#e6aad6" stroke-width="1.9" stroke-linejoin="round" stroke-linecap="round"/>
<path d="M420,321.58 C421.32,321.65 425.16,321.75 427.93,321.96 C430.7,322.16 433.92,322.47 436.61,322.82 C439.3,323.18 441.78,323.59 444.06,324.07 C446.33,324.54 448.4,325.16 450.26,325.68 C452.12,326.2 453.57,326.55 455.23,327.17 C456.88,327.79 458.53,328.57 460.19,329.4 C461.84,330.23 463.5,331.26 465.15,332.13 C466.81,333 468.46,334.03 470.12,334.61 C471.77,335.19 473.42,335.36 475.08,335.61 C476.73,335.85 478.39,336.16 480.04,336.1 C481.7,336.04 483.35,335.79 485.01,335.23 C486.66,334.67 488.31,333.64 489.97,332.75 C491.62,331.86 493.28,330.56 494.93,329.9 C496.59,329.24 499.05,328.93 499.9,328.78 C500.74,328.64 498.74,328.88 500,329.03 C501.26,329.17 504.96,329.13 507.45,329.65 C509.93,330.17 512.62,331.3 514.89,332.13 C517.17,332.96 519.03,333.48 521.09,334.61 C523.16,335.75 525.23,337.82 527.3,338.96 C529.37,340.09 531.23,340.82 533.5,341.44 C535.78,342.06 538.88,342.57 540.95,342.68 C543.02,342.78 544.05,342.57 545.91,342.06 C547.77,341.54 549.84,340.16 552.12,339.58 C554.39,339 557.49,338.75 559.56,338.58 C561.63,338.42 562.66,338.31 564.52,338.58 C566.39,338.85 568.66,339.31 570.73,340.2 C572.8,341.09 574.55,342.58 576.93,343.92 C579.31,345.26 582.54,346.84 585,348.23 C587.46,349.62 589.48,351.03 591.72,352.26 C593.95,353.49 596.19,354.84 598.43,355.62 C600.67,356.4 602.91,356.85 605.15,356.96 C607.38,357.07 609.62,356.63 611.86,356.29 C614.1,355.95 616.34,355.62 618.58,354.95 C620.81,354.28 623.05,353.27 625.29,352.26 C627.53,351.25 629.77,350.02 632.01,348.9 C634.24,347.78 636.71,346.22 638.72,345.55 C640.73,344.87 642.3,344.76 644.09,344.87 C645.88,344.99 647.67,345.32 649.46,346.22 C651.25,347.11 653.05,348.79 654.84,350.25 C656.63,351.7 658.42,353.49 660.21,354.95 C662,356.4 663.45,357.86 665.58,358.98 C667.71,360.1 671.74,361.21 672.97,361.66" fill="none" stroke="#55c3e6" stroke-width="1.9" stroke-linejoin="round" stroke-linecap="round"/>
<path d="M420,321.58 C420.29,322.41 421.02,325.1 421.72,326.55 C422.42,327.99 423.38,329.34 424.2,330.27 C425.03,331.2 425.86,330.89 426.69,332.13 C427.51,333.37 428.44,336.27 429.17,337.71 C429.89,339.16 430.31,340.2 431.03,340.82 C431.75,341.44 432.68,340.92 433.51,341.44 C434.34,341.95 435.17,342.99 435.99,343.92 C436.82,344.85 437.54,345.88 438.47,347.02 C439.4,348.16 440.54,349.61 441.58,350.74 C442.61,351.88 443.54,353.23 444.68,353.85 C445.82,354.47 447.16,354.61 448.4,354.47 C449.64,354.32 450.99,352.94 452.12,352.98 C453.26,353.02 454.09,354.98 455.23,354.71 C456.36,354.45 457.71,352.54 458.95,351.36 C460.19,350.19 461.64,349.4 462.67,347.64 C463.7,345.88 464.33,342.89 465.15,340.82 C465.98,338.75 466.81,336.31 467.63,335.23 C468.46,334.16 469.19,334.98 470.12,334.36 C471.05,333.74 472.18,332.19 473.22,331.51 C474.25,330.83 475.29,330.89 476.32,330.27 C477.35,329.65 478.39,328.2 479.42,327.79 C480.46,327.37 481.39,327.58 482.52,327.79 C483.66,327.99 485.01,328.51 486.25,329.03 C487.49,329.55 488.73,330.27 489.97,330.89 C491.21,331.51 492.45,332.13 493.69,332.75 C494.93,333.37 495.54,334.3 497.41,334.61 C499.29,334.92 503.08,334.45 504.96,334.61 C506.84,334.78 507.55,335.09 508.69,335.61 C509.82,336.12 510.75,337.3 511.79,337.71 C512.82,338.13 513.75,338.23 514.89,338.09 C516.03,337.94 517.37,337.12 518.61,336.85 C519.85,336.58 521.09,336.02 522.34,336.47 C523.58,336.93 524.82,338.75 526.06,339.58 C527.3,340.4 528.33,340.98 529.78,341.44 C531.23,341.89 532.68,342.16 534.74,342.31 C536.81,342.45 540.33,342.1 542.19,342.31 C544.05,342.51 544.67,343.69 545.91,343.55 C547.15,343.4 548.6,342.1 549.63,341.44 C550.67,340.78 551.19,340.71 552.12,339.58 C553.05,338.44 554.29,335.85 555.22,334.61 C556.15,333.37 556.77,332.34 557.7,332.13 C558.63,331.92 559.46,333.48 560.8,333.37 C562.15,333.27 564.32,332.17 565.76,331.51 C567.21,330.85 568.56,329.92 569.49,329.4 C570.42,328.88 570.52,327.33 571.35,328.41 C572.18,329.48 573.11,334.1 574.45,335.85 C575.8,337.61 577.66,337.82 579.41,338.96 C581.17,340.09 583.62,341.13 585,342.68 C586.38,344.22 586.57,346.3 587.69,348.23 C588.81,350.16 590.37,353.49 591.72,354.28 C593.06,355.06 594.4,353.72 595.74,352.93 C597.09,352.15 598.54,350.58 599.77,349.58 C601,348.57 602.12,347.11 603.13,346.89 C604.14,346.67 604.7,348.57 605.82,348.23 C606.94,347.9 608.61,345.66 609.85,344.87 C611.08,344.09 612.08,344.76 613.2,343.53 C614.32,342.3 615.44,339.17 616.56,337.49 C617.68,335.81 618.46,334.24 619.92,333.46 C621.37,332.68 623.72,332.83 625.29,332.79 C626.86,332.74 628.2,333.57 629.32,333.19 C630.44,332.81 631.22,331.24 632.01,330.5 C632.79,329.77 633.35,328.6 634.02,328.76 C634.69,328.92 635.25,330.55 636.03,331.44 C636.82,332.34 637.6,333.39 638.72,334.13 C639.84,334.87 641.41,335.81 642.75,335.88 C644.09,335.94 645.66,334.89 646.78,334.53 C647.9,334.18 648.34,333.5 649.46,333.73 C650.58,333.95 651.81,335.36 653.49,335.88 C655.17,336.39 657.52,336.95 659.54,336.82 C661.55,336.68 663.34,335.45 665.58,335.07 C667.82,334.69 671.74,334.62 672.97,334.53" fill="none" stroke="#8150a6" stroke-width="1.9" stroke-linejoin="round" stroke-linecap="round"/>
<path d="M420,321.58 C420.91,321.65 423.3,321.75 425.45,321.96 C427.59,322.16 430.41,322.47 432.89,322.82 C435.37,323.18 437.85,323.51 440.34,324.07 C442.82,324.62 445.51,325.49 447.78,326.17 C450.06,326.86 451.92,327.58 453.98,328.16 C456.05,328.74 458.33,329.24 460.19,329.65 C462.05,330.06 463.5,330.54 465.15,330.64 C466.81,330.75 468.46,330.54 470.12,330.27 C471.77,330 473.42,329.38 475.08,329.03 C476.73,328.68 478.39,328.1 480.04,328.16 C481.7,328.22 483.35,328.84 485.01,329.4 C486.66,329.96 488.31,330.85 489.97,331.51 C491.62,332.17 493.28,332.9 494.93,333.37 C496.59,333.85 499.05,334.26 499.9,334.36 C500.74,334.47 498.95,333.85 500,333.99 C501.05,334.14 504.14,334.92 506.2,335.23 C508.27,335.54 510.34,335.96 512.41,335.85 C514.48,335.75 516.54,335.13 518.61,334.61 C520.68,334.1 522.75,333.58 524.82,332.75 C526.89,331.92 528.95,330.48 531.02,329.65 C533.09,328.82 535.16,328.2 537.23,327.79 C539.29,327.37 541.36,327.17 543.43,327.17 C545.5,327.17 547.57,327.54 549.63,327.79 C551.7,328.04 553.77,328.45 555.84,328.66 C557.91,328.86 559.97,329.11 562.04,329.03 C564.11,328.95 566.18,328.51 568.25,328.16 C570.31,327.81 572.59,327.29 574.45,326.92 C576.31,326.55 577.66,326.22 579.41,325.93 C581.17,325.63 582.95,325.4 585,325.13 C587.05,324.87 589.48,324.51 591.72,324.33 C593.95,324.15 596.19,324.15 598.43,324.06 C600.67,323.97 602.91,323.86 605.15,323.79 C607.38,323.72 609.62,323.57 611.86,323.66 C614.1,323.74 616.56,324.04 618.58,324.33 C620.59,324.62 622.16,324.82 623.95,325.4 C625.74,325.98 627.53,326.97 629.32,327.82 C631.11,328.67 632.9,329.61 634.69,330.5 C636.48,331.4 638.27,332.47 640.06,333.19 C641.85,333.91 643.64,334.53 645.44,334.8 C647.23,335.07 649.02,335.07 650.81,334.8 C652.6,334.53 654.39,333.82 656.18,333.19 C657.97,332.56 659.76,331.67 661.55,331.04 C663.34,330.41 665.02,329.92 666.92,329.43 C668.83,328.94 671.96,328.31 672.97,328.09" fill="none" stroke="#1f70b8" stroke-width="1.9" stroke-linejoin="round" stroke-linecap="round"/>
<path d="M420,321.58 C420.7,321.89 422.68,322.76 424.2,323.45 C425.73,324.13 427.51,324.85 429.17,325.68 C430.82,326.51 432.48,327.58 434.13,328.41 C435.79,329.24 437.44,330.02 439.09,330.64 C440.75,331.26 442.4,331.99 444.06,332.13 C445.71,332.28 447.16,331.76 449.02,331.51 C450.88,331.26 453.16,330.99 455.23,330.64 C457.29,330.29 459.36,329.77 461.43,329.4 C463.5,329.03 465.57,328.78 467.63,328.41 C469.7,328.04 471.77,327.58 473.84,327.17 C475.91,326.75 477.97,326.3 480.04,325.93 C482.11,325.55 484.18,325.18 486.25,324.93 C488.31,324.69 490.59,324.52 492.45,324.44 C494.31,324.36 496.16,324.4 497.41,324.44 C498.67,324.48 498.74,324.44 500,324.69 C501.26,324.93 503.31,325.41 504.96,325.93 C506.62,326.44 508.07,327.06 509.93,327.79 C511.79,328.51 514.06,329.65 516.13,330.27 C518.2,330.89 520.27,331.3 522.34,331.51 C524.4,331.72 526.47,331.72 528.54,331.51 C530.61,331.3 532.88,330.83 534.74,330.27 C536.61,329.71 538.05,328.78 539.71,328.16 C541.36,327.54 543.02,326.96 544.67,326.55 C546.33,326.13 547.77,325.95 549.63,325.68 C551.5,325.41 553.77,325.06 555.84,324.93 C557.91,324.81 559.97,324.93 562.04,324.93 C564.11,324.93 566.18,324.77 568.25,324.93 C570.31,325.1 572.59,325.6 574.45,325.93 C576.31,326.26 577.66,326.6 579.41,326.92 C581.17,327.23 582.95,327.51 585,327.82 C587.05,328.12 589.48,328.49 591.72,328.76 C593.95,329.03 596.19,329.32 598.43,329.43 C600.67,329.54 602.91,329.61 605.15,329.43 C607.38,329.25 609.62,328.8 611.86,328.36 C614.1,327.91 616.56,327.19 618.58,326.74 C620.59,326.3 621.93,325.94 623.95,325.67 C625.96,325.4 628.2,325.13 630.66,325.13 C633.12,325.13 636.26,325.51 638.72,325.67 C641.18,325.83 643.2,325.89 645.44,326.07 C647.67,326.25 649.91,326.52 652.15,326.74 C654.39,326.97 656.63,327.3 658.87,327.42 C661.1,327.53 663.23,327.53 665.58,327.42 C667.93,327.3 671.74,326.86 672.97,326.74" fill="none" stroke="#9c1b63" stroke-width="1.9" stroke-linejoin="round" stroke-linecap="round"/>
<line x1="469.8" y1="529.4" x2="486.1" y2="529.4" stroke="#d3283a" stroke-width="1.3" />
<path d="M491.7,529.4 L484.8,527.3 L484.8,531.5 Z" fill="#d3283a"/>
<ellipse cx="479.6" cy="535.5" rx="6.3" ry="1.9" fill="#7f8a8a" opacity="0.45" filter="url(#blur1)"/>
<circle cx="479.6" cy="529.4" r="4.5" fill="url(#gR)"/>
<path d="M475.1,515 L484.1,515 L479.6,522.4 Z" fill="#55c3e6"/>
<text x="479.6" y="553.2" font-size="17" text-anchor="middle" fill="#231f20" >E</text>
<line x1="516.2" y1="529.4" x2="499.9" y2="529.4" stroke="#2a55b5" stroke-width="1.3" />
<path d="M494.3,529.4 L501.2,527.3 L501.2,531.5 Z" fill="#2a55b5"/>
<ellipse cx="506.4" cy="535.5" rx="6.3" ry="1.9" fill="#7f8a8a" opacity="0.45" filter="url(#blur1)"/>
<circle cx="506.4" cy="529.4" r="4.5" fill="url(#gB)"/>
<path d="M501.9,515 L510.9,515 L506.4,522.4 Z" fill="#1f70b8"/>
<text x="506.4" y="553.2" font-size="17" text-anchor="middle" fill="#231f20" >D</text>
<line x1="522.4" y1="529.4" x2="538.7" y2="529.4" stroke="#d3283a" stroke-width="1.3" />
<path d="M544.3,529.4 L537.4,527.3 L537.4,531.5 Z" fill="#d3283a"/>
<ellipse cx="532.2" cy="535.5" rx="6.3" ry="1.9" fill="#7f8a8a" opacity="0.45" filter="url(#blur1)"/>
<circle cx="532.2" cy="529.4" r="4.5" fill="url(#gR)"/>
<path d="M527.7,515 L536.7,515 L532.2,522.4 Z" fill="#9c1b63"/>
<text x="532.2" y="553.2" font-size="17" text-anchor="middle" fill="#231f20" >C</text>
<line x1="568.8" y1="529.4" x2="552.5" y2="529.4" stroke="#2a55b5" stroke-width="1.3" />
<path d="M546.9,529.4 L553.8,527.3 L553.8,531.5 Z" fill="#2a55b5"/>
<ellipse cx="559" cy="535.5" rx="6.3" ry="1.9" fill="#7f8a8a" opacity="0.45" filter="url(#blur1)"/>
<circle cx="559" cy="529.4" r="4.5" fill="url(#gB)"/>
<path d="M554.5,515 L563.5,515 L559,522.4 Z" fill="#8150a6"/>
<text x="559" y="553.2" font-size="17" text-anchor="middle" fill="#231f20" >B</text>
<line x1="575.6" y1="529.4" x2="591.9" y2="529.4" stroke="#d3283a" stroke-width="1.3" />
<path d="M597.5,529.4 L590.6,527.3 L590.6,531.5 Z" fill="#d3283a"/>
<ellipse cx="585.4" cy="535.5" rx="6.3" ry="1.9" fill="#7f8a8a" opacity="0.45" filter="url(#blur1)"/>
<circle cx="585.4" cy="529.4" r="4.5" fill="url(#gR)"/>
<path d="M580.9,515 L589.9,515 L585.4,522.4 Z" fill="#e6aad6"/>
<text x="585.4" y="553.2" font-size="17" text-anchor="middle" fill="#231f20" >A</text>
<text x="605.8" y="535.4" font-size="16.5" text-anchor="middle" fill="#231f20" >H</text>
<line x1="614.2" y1="529.4" x2="630.5" y2="529.4" stroke="#e89a8a" stroke-width="1.3" />
<path d="M636.1,529.4 L629.2,527.3 L629.2,531.5 Z" fill="#e89a8a"/>
<ellipse cx="624" cy="535.5" rx="6.3" ry="1.9" fill="#7f8a8a" opacity="0.45" filter="url(#blur1)"/>
<circle cx="624" cy="529.4" r="4.5" fill="url(#gRf)"/>
<line x1="644.5" y1="529.4" x2="650" y2="529.4" stroke="#9aa0d8" stroke-width="1.3" />
<path d="M639.4,529.4 L645,527.5 L645,531.3 Z" fill="#9aa0d8"/>
<ellipse cx="650" cy="535.5" rx="3" ry="1.6" fill="#7f8a8a" opacity="0.4" filter="url(#blur1)"/>
<path d="M651.6,524.8 A4.6,4.6 0 0 0 651.6,534 Z" fill="url(#gBf)"/>
<line x1="651.6" y1="518.4" x2="651.6" y2="540.6" stroke="#231f20" stroke-width="1.3" />
<rect x="61.3" y="637.75" width="612.5" height="168.25" fill="none" stroke="#231f20" stroke-width="1.8" stroke-linejoin="miter"/>
<line x1="95.33" y1="806" x2="95.33" y2="798" stroke="#231f20" stroke-width="1.8" />
<line x1="95.33" y1="637.75" x2="95.33" y2="645.75" stroke="#231f20" stroke-width="1.8" />
<line x1="163.38" y1="806" x2="163.38" y2="798" stroke="#231f20" stroke-width="1.8" />
<line x1="163.38" y1="637.75" x2="163.38" y2="645.75" stroke="#231f20" stroke-width="1.8" />
<line x1="231.44" y1="806" x2="231.44" y2="798" stroke="#231f20" stroke-width="1.8" />
<line x1="231.44" y1="637.75" x2="231.44" y2="645.75" stroke="#231f20" stroke-width="1.8" />
<line x1="299.49" y1="806" x2="299.49" y2="798" stroke="#231f20" stroke-width="1.8" />
<line x1="299.49" y1="637.75" x2="299.49" y2="645.75" stroke="#231f20" stroke-width="1.8" />
<line x1="367.55" y1="806" x2="367.55" y2="798" stroke="#231f20" stroke-width="1.8" />
<line x1="367.55" y1="637.75" x2="367.55" y2="645.75" stroke="#231f20" stroke-width="1.8" />
<line x1="435.61" y1="806" x2="435.61" y2="798" stroke="#231f20" stroke-width="1.8" />
<line x1="435.61" y1="637.75" x2="435.61" y2="645.75" stroke="#231f20" stroke-width="1.8" />
<line x1="503.66" y1="806" x2="503.66" y2="798" stroke="#231f20" stroke-width="1.8" />
<line x1="503.66" y1="637.75" x2="503.66" y2="645.75" stroke="#231f20" stroke-width="1.8" />
<line x1="571.72" y1="806" x2="571.72" y2="798" stroke="#231f20" stroke-width="1.8" />
<line x1="571.72" y1="637.75" x2="571.72" y2="645.75" stroke="#231f20" stroke-width="1.8" />
<line x1="639.77" y1="806" x2="639.77" y2="798" stroke="#231f20" stroke-width="1.8" />
<line x1="639.77" y1="637.75" x2="639.77" y2="645.75" stroke="#231f20" stroke-width="1.8" />
<line x1="61.3" y1="754.2" x2="69.3" y2="754.2" stroke="#231f20" stroke-width="1.8" />
<line x1="673.8" y1="754.2" x2="665.8" y2="754.2" stroke="#231f20" stroke-width="1.8" />
<line x1="61.3" y1="702.4" x2="69.3" y2="702.4" stroke="#231f20" stroke-width="1.8" />
<line x1="673.8" y1="702.4" x2="665.8" y2="702.4" stroke="#231f20" stroke-width="1.8" />
<line x1="61.3" y1="650.6" x2="69.3" y2="650.6" stroke="#231f20" stroke-width="1.8" />
<line x1="673.8" y1="650.6" x2="665.8" y2="650.6" stroke="#231f20" stroke-width="1.8" />
<text x="54.8" y="811.7" font-size="20" text-anchor="end" fill="#231f20" >0.0</text>
<text x="54.8" y="759.9" font-size="20" text-anchor="end" fill="#231f20" >0.2</text>
<text x="54.8" y="707.7" font-size="20" text-anchor="end" fill="#231f20" >0.4</text>
<text x="54.8" y="655.4" font-size="20" text-anchor="end" fill="#231f20" >0.6</text>
<text x="95.33" y="827.5" font-size="20" text-anchor="middle" fill="#231f20" >I</text>
<text x="163.38" y="827.5" font-size="20" text-anchor="middle" fill="#231f20" >H</text>
<text x="231.44" y="827.5" font-size="20" text-anchor="middle" fill="#231f20" >G</text>
<text x="299.49" y="827.5" font-size="20" text-anchor="middle" fill="#231f20" >F</text>
<text x="367.55" y="827.5" font-size="20" text-anchor="middle" fill="#231f20" >E</text>
<text x="435.61" y="827.5" font-size="20" text-anchor="middle" fill="#231f20" >D</text>
<text x="503.66" y="827.5" font-size="20" text-anchor="middle" fill="#231f20" >C</text>
<text x="571.72" y="827.5" font-size="20" text-anchor="middle" fill="#231f20" >B</text>
<text x="639.77" y="827.5" font-size="20" text-anchor="middle" fill="#231f20" >A</text>
<text x="370" y="852.6" font-size="20" text-anchor="middle" fill="#231f20" textLength="98.5" lengthAdjust="spacingAndGlyphs" >Tip location</text>
<text transform="translate(14.6,725.2) rotate(-90)" font-size="19.2" text-anchor="middle" fill="#231f20" textLength="177.5" lengthAdjust="spacingAndGlyphs">Switching probability</text>
<text transform="translate(75.0,662.2) scale(1.07,1)" font-size="25" font-weight="bold" fill="#231f20">e</text>
<path d="M95.33,686.6 L163.38,674.4 L231.44,678.9 L299.49,683 L367.55,692.6 L435.61,677.7 L503.66,680.7 L571.72,682.2 L639.77,689.1" fill="none" stroke="#9c1b63" stroke-width="1.9" stroke-dasharray="3.2,2.6" stroke-linejoin="round"/>
<path d="M95.33,716.5 L163.38,710.6 L231.44,733.7 L299.49,709.7 L367.55,700.5 L435.61,680.7 L503.66,674.7 L571.72,677.2 L639.77,674.7" fill="none" stroke="#1f70b8" stroke-width="1.9" stroke-dasharray="3.2,2.6" stroke-linejoin="round"/>
<path d="M95.33,756.3 L163.38,757.2 L231.44,765.3 L299.49,740 L367.55,759.1 L435.61,766.5 L503.66,754.1 L571.72,758.1 L639.77,750.6" fill="none" stroke="#b5b5b5" stroke-width="1.9" stroke-dasharray="3.2,2.6" stroke-linejoin="round"/>
<path d="M95.33,756.3 L163.38,760.8 L231.44,758.5 L299.49,749 L367.55,759.1 L435.61,747.7 L503.66,752.6 L571.72,687.5 L639.77,665.3" fill="none" stroke="#55c3e6" stroke-width="1.9" stroke-dasharray="3.2,2.6" stroke-linejoin="round"/>
<line x1="95.33" y1="746.3" x2="95.33" y2="766.3" stroke="#b5b5b5" stroke-width="1.8" />
<circle cx="95.33" cy="756.3" r="3.9" fill="#b5b5b5" stroke="none" stroke-width="0"/>
<line x1="163.38" y1="745.2" x2="163.38" y2="769.2" stroke="#b5b5b5" stroke-width="1.8" />
<circle cx="163.38" cy="757.2" r="3.9" fill="#b5b5b5" stroke="none" stroke-width="0"/>
<line x1="231.44" y1="753.3" x2="231.44" y2="777.3" stroke="#b5b5b5" stroke-width="1.8" />
<circle cx="231.44" cy="765.3" r="3.9" fill="#b5b5b5" stroke="none" stroke-width="0"/>
<line x1="299.49" y1="727" x2="299.49" y2="753" stroke="#b5b5b5" stroke-width="1.8" />
<circle cx="299.49" cy="740" r="3.9" fill="#b5b5b5" stroke="none" stroke-width="0"/>
<line x1="367.55" y1="749.1" x2="367.55" y2="769.1" stroke="#b5b5b5" stroke-width="1.8" />
<circle cx="367.55" cy="759.1" r="3.9" fill="#b5b5b5" stroke="none" stroke-width="0"/>
<line x1="435.61" y1="755.5" x2="435.61" y2="777.5" stroke="#b5b5b5" stroke-width="1.8" />
<circle cx="435.61" cy="766.5" r="3.9" fill="#b5b5b5" stroke="none" stroke-width="0"/>
<line x1="503.66" y1="743.1" x2="503.66" y2="765.1" stroke="#b5b5b5" stroke-width="1.8" />
<circle cx="503.66" cy="754.1" r="3.9" fill="#b5b5b5" stroke="none" stroke-width="0"/>
<line x1="571.72" y1="747.1" x2="571.72" y2="769.1" stroke="#b5b5b5" stroke-width="1.8" />
<circle cx="571.72" cy="758.1" r="3.9" fill="#b5b5b5" stroke="none" stroke-width="0"/>
<line x1="639.77" y1="738.6" x2="639.77" y2="762.6" stroke="#b5b5b5" stroke-width="1.8" />
<circle cx="639.77" cy="750.6" r="3.9" fill="#b5b5b5" stroke="none" stroke-width="0"/>
<line x1="95.33" y1="745.3" x2="95.33" y2="767.3" stroke="#55c3e6" stroke-width="1.8" />
<circle cx="95.33" cy="756.3" r="3.9" fill="#55c3e6" stroke="none" stroke-width="0"/>
<line x1="163.38" y1="749.8" x2="163.38" y2="771.8" stroke="#55c3e6" stroke-width="1.8" />
<circle cx="163.38" cy="760.8" r="3.9" fill="#55c3e6" stroke="none" stroke-width="0"/>
<line x1="231.44" y1="747.5" x2="231.44" y2="769.5" stroke="#55c3e6" stroke-width="1.8" />
<circle cx="231.44" cy="758.5" r="3.9" fill="#55c3e6" stroke="none" stroke-width="0"/>
<line x1="299.49" y1="738" x2="299.49" y2="760" stroke="#55c3e6" stroke-width="1.8" />
<circle cx="299.49" cy="749" r="3.9" fill="#55c3e6" stroke="none" stroke-width="0"/>
<line x1="367.55" y1="748.1" x2="367.55" y2="770.1" stroke="#55c3e6" stroke-width="1.8" />
<circle cx="367.55" cy="759.1" r="3.9" fill="#55c3e6" stroke="none" stroke-width="0"/>
<line x1="435.61" y1="736.7" x2="435.61" y2="758.7" stroke="#55c3e6" stroke-width="1.8" />
<circle cx="435.61" cy="747.7" r="3.9" fill="#55c3e6" stroke="none" stroke-width="0"/>
<line x1="503.66" y1="740.6" x2="503.66" y2="764.6" stroke="#55c3e6" stroke-width="1.8" />
<circle cx="503.66" cy="752.6" r="3.9" fill="#55c3e6" stroke="none" stroke-width="0"/>
<line x1="571.72" y1="673.5" x2="571.72" y2="701.5" stroke="#55c3e6" stroke-width="1.8" />
<circle cx="571.72" cy="687.5" r="3.9" fill="#55c3e6" stroke="none" stroke-width="0"/>
<line x1="639.77" y1="652.3" x2="639.77" y2="678.3" stroke="#55c3e6" stroke-width="1.8" />
<circle cx="639.77" cy="665.3" r="3.9" fill="#55c3e6" stroke="none" stroke-width="0"/>
<line x1="95.33" y1="705" x2="95.33" y2="728" stroke="#1f70b8" stroke-width="1.8" />
<circle cx="95.33" cy="716.5" r="3.9" fill="#1f70b8" stroke="none" stroke-width="0"/>
<line x1="163.38" y1="698.6" x2="163.38" y2="722.6" stroke="#1f70b8" stroke-width="1.8" />
<circle cx="163.38" cy="710.6" r="3.9" fill="#1f70b8" stroke="none" stroke-width="0"/>
<line x1="231.44" y1="721.7" x2="231.44" y2="745.7" stroke="#1f70b8" stroke-width="1.8" />
<circle cx="231.44" cy="733.7" r="3.9" fill="#1f70b8" stroke="none" stroke-width="0"/>
<line x1="299.49" y1="697.7" x2="299.49" y2="721.7" stroke="#1f70b8" stroke-width="1.8" />
<circle cx="299.49" cy="709.7" r="3.9" fill="#1f70b8" stroke="none" stroke-width="0"/>
<line x1="367.55" y1="688.5" x2="367.55" y2="712.5" stroke="#1f70b8" stroke-width="1.8" />
<circle cx="367.55" cy="700.5" r="3.9" fill="#1f70b8" stroke="none" stroke-width="0"/>
<line x1="435.61" y1="669.7" x2="435.61" y2="691.7" stroke="#1f70b8" stroke-width="1.8" />
<circle cx="435.61" cy="680.7" r="3.9" fill="#1f70b8" stroke="none" stroke-width="0"/>
<line x1="503.66" y1="664.7" x2="503.66" y2="684.7" stroke="#1f70b8" stroke-width="1.8" />
<circle cx="503.66" cy="674.7" r="3.9" fill="#1f70b8" stroke="none" stroke-width="0"/>
<line x1="571.72" y1="667.2" x2="571.72" y2="687.2" stroke="#1f70b8" stroke-width="1.8" />
<circle cx="571.72" cy="677.2" r="3.9" fill="#1f70b8" stroke="none" stroke-width="0"/>
<line x1="639.77" y1="664.7" x2="639.77" y2="684.7" stroke="#1f70b8" stroke-width="1.8" />
<circle cx="639.77" cy="674.7" r="3.9" fill="#1f70b8" stroke="none" stroke-width="0"/>
<line x1="95.33" y1="670.3" x2="95.33" y2="702.9" stroke="#9c1b63" stroke-width="1.8" />
<circle cx="95.33" cy="686.6" r="3.9" fill="#9c1b63" stroke="none" stroke-width="0"/>
<line x1="163.38" y1="657.4" x2="163.38" y2="691.4" stroke="#9c1b63" stroke-width="1.8" />
<circle cx="163.38" cy="674.4" r="3.9" fill="#9c1b63" stroke="none" stroke-width="0"/>
<line x1="231.44" y1="661.4" x2="231.44" y2="696.4" stroke="#9c1b63" stroke-width="1.8" />
<circle cx="231.44" cy="678.9" r="3.9" fill="#9c1b63" stroke="none" stroke-width="0"/>
<line x1="299.49" y1="664.5" x2="299.49" y2="701.5" stroke="#9c1b63" stroke-width="1.8" />
<circle cx="299.49" cy="683" r="3.9" fill="#9c1b63" stroke="none" stroke-width="0"/>
<line x1="367.55" y1="675.9" x2="367.55" y2="709.3" stroke="#9c1b63" stroke-width="1.8" />
<circle cx="367.55" cy="692.6" r="3.9" fill="#9c1b63" stroke="none" stroke-width="0"/>
<line x1="435.61" y1="659.2" x2="435.61" y2="696.2" stroke="#9c1b63" stroke-width="1.8" />
<circle cx="435.61" cy="677.7" r="3.9" fill="#9c1b63" stroke="none" stroke-width="0"/>
<line x1="503.66" y1="663.2" x2="503.66" y2="698.2" stroke="#9c1b63" stroke-width="1.8" />
<circle cx="503.66" cy="680.7" r="3.9" fill="#9c1b63" stroke="none" stroke-width="0"/>
<line x1="571.72" y1="665.2" x2="571.72" y2="699.2" stroke="#9c1b63" stroke-width="1.8" />
<circle cx="571.72" cy="682.2" r="3.9" fill="#9c1b63" stroke="none" stroke-width="0"/>
<line x1="639.77" y1="671.6" x2="639.77" y2="706.6" stroke="#9c1b63" stroke-width="1.8" />
<circle cx="639.77" cy="689.1" r="3.9" fill="#9c1b63" stroke="none" stroke-width="0"/></svg></body></html>
